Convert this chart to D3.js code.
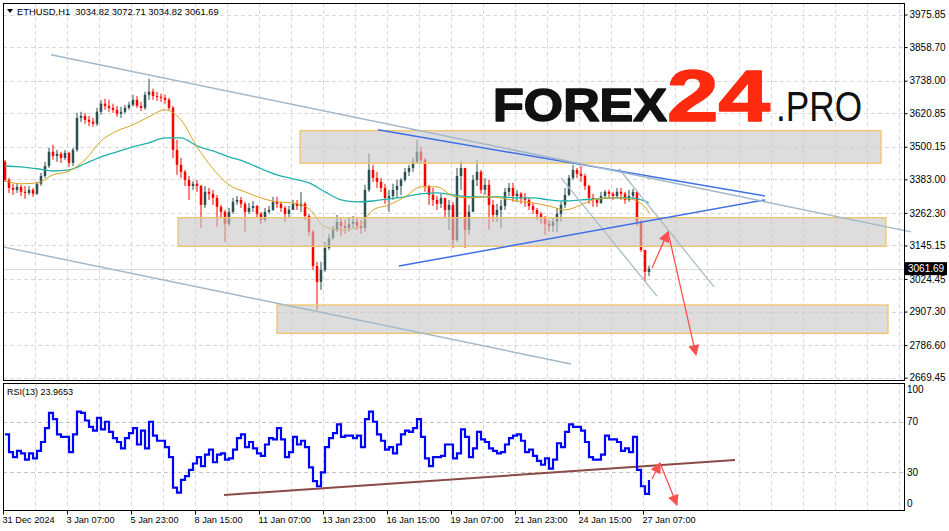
<!DOCTYPE html>
<html><head><meta charset="utf-8">
<script src="https://cdn.jsdelivr.net/npm/d3@7"></script>
<style>
body{margin:0;background:#fff;}
svg{display:block;}
text{font-family:"Liberation Sans",Arial,sans-serif;}
</style>
</head><body>
<svg id="c" width="949" height="531"></svg>
<script>
// ---------------- DATA ----------------
// 4-hour candles (each = 4 H1 bars), open = previous close
const firstOpen = 3446;
const closes = [
3381,3352,3345,3356,3338,3334,3345,3331,3367,3395,
3431,3482,3467,3475,3460,3478,3442,3489,3604,3611,
3597,3590,3583,3626,3655,3647,3640,3633,3619,3626,
3640,3651,3669,3647,3640,3687,3698,3683,3680,3676,
3669,3640,3489,3435,3410,3381,3359,3367,3359,3291,
3338,3331,3316,3284,3266,3223,3266,3302,3309,3295,
3266,3280,3287,3259,3237,3266,3273,3302,3295,3280,
3259,3273,3295,3287,3295,3251,3194,3071,3014,3057,
3136,3172,3201,3230,3215,3208,3223,3230,3215,3208,
3345,3417,3388,3374,3352,3316,3323,3345,3359,3381,
3410,3424,3446,3482,3453,3359,3327,3309,3295,3316,
3273,3291,3165,3395,3424,3201,3266,3381,3410,3345,
3363,3291,3255,3273,3287,3338,3352,3323,3331,3316,
3309,3287,3273,3259,3244,3223,3215,3230,3259,3291,
3327,3388,3417,3403,3395,3359,3316,3309,3298,3323,
3338,3331,3323,3338,3331,3309,3323,3338,3230,3129,
3050,3061.69];
const highs = [
3453,3388,3367,3370,3363,3359,3359,3352,3374,3406,
3446,3496,3507,3489,3482,3489,3482,3496,3622,3626,
3622,3611,3604,3640,3669,3673,3669,3655,3647,3644,
3651,3662,3687,3683,3662,3698,3745,3709,3698,3691,
3687,3676,3647,3525,3460,3417,3395,3377,3381,3363,
3359,3352,3345,3327,3291,3273,3280,3316,3323,3320,
3302,3298,3305,3291,3266,3280,3287,3320,3320,3302,
3287,3287,3309,3309,3338,3302,3259,3201,3086,3086,
3158,3187,3215,3255,3244,3237,3244,3251,3244,3237,
3363,3475,3435,3410,3388,3367,3345,3367,3381,3388,
3424,3435,3460,3525,3500,3460,3363,3352,3323,3331,
3316,3309,3302,3424,3449,3424,3291,3399,3453,3417,
3388,3381,3309,3295,3309,3352,3370,3370,3345,3338,
3334,3316,3298,3280,3266,3251,3237,3244,3280,3302,
3352,3399,3435,3424,3431,3403,3363,3331,3316,3338,
3345,3345,3338,3352,3352,3338,3345,3349,3338,3237,
3129,3072.71];
const lows = [
3374,3334,3327,3334,3323,3313,3327,3320,3327,3359,
3388,3424,3453,3446,3442,3453,3428,3431,3482,3590,
3583,3575,3572,3575,3615,3633,3626,3622,3608,3604,
3619,3633,3644,3640,3629,3633,3669,3669,3665,3662,
3655,3633,3460,3399,3388,3359,3309,3345,3338,3208,
3280,3309,3291,3212,3244,3158,3215,3259,3291,3280,
3194,3259,3266,3244,3223,3230,3259,3269,3280,3266,
3230,3244,3273,3273,3266,3237,3179,3057,2913,2985,
3050,3129,3165,3194,3179,3187,3194,3208,3201,3187,
3194,3338,3374,3352,3338,3295,3266,3309,3316,3327,
3374,3395,3410,3439,3439,3338,3291,3287,3273,3280,
3244,3201,3136,3158,3345,3136,3183,3266,3359,3331,
3327,3201,3230,3230,3208,3273,3323,3302,3302,3295,
3284,3273,3259,3237,3223,3183,3194,3194,3194,3230,
3280,3323,3381,3388,3374,3345,3295,3284,3284,3295,
3316,3316,3309,3316,3309,3295,3302,3316,3215,3122,
3014,3034.82];
// RSI(13), one value per 4-hour step
const rsi = [
60,46,42,47,45,40,45,41,47,54,
65,77,72,60,58,58,46,60,78,77,
71,66,63,73,64,70,62,57,54,49,
57,61,65,52,63,49,70,59,55,55,
50,42,18,14,24,27,32,37,42,35,
44,48,38,44,45,40,41,48,57,60,
50,54,49,45,43,52,57,56,65,56,
42,46,58,52,55,50,34,23,19,30,
50,57,61,68,58,59,59,57,59,50,
72,78,70,60,55,48,50,45,52,60,
63,62,65,72,58,41,35,42,42,43,
52,52,41,45,64,58,42,49,62,56,
54,49,47,45,46,52,57,59,60,55,
46,48,43,39,36,41,33,40,53,50,
62,68,66,66,63,54,42,40,40,44,
59,56,56,54,47,49,46,58,32,19,
13,23.9653];
// moving averages, sampled every 16 bars (+ last bar)
const maFast = [3377,3367,3370,3399,3413,3453,3521,3557,3579,3608,3633,3597,3500,3421,3363,3338,3316,3302,3298,3277,3212,3201,3208,3273,3291,3320,3356,3356,3323,3316,3320,3316,3305,3298,3287,3273,3291,3313,3316,3313,3284,3262];
const maSlow = [3431,3428,3421,3413,3417,3439,3464,3482,3500,3514,3532,3532,3503,3485,3464,3446,3421,3399,3385,3370,3338,3309,3302,3305,3313,3320,3331,3334,3327,3320,3320,3320,3316,3316,3309,3305,3309,3313,3316,3316,3305,3298];
const priceTicks = [3975.85,3858.70,3738.00,3620.85,3500.15,3383.00,3262.30,3145.15,3024.45,2907.30,2786.60,2669.45];
const rsiTicks = [100,70,30,0];
const timeLabels = ["31 Dec 2024","3 Jan 07:00","5 Jan 23:00","8 Jan 15:00","11 Jan 07:00","13 Jan 23:00","16 Jan 15:00","19 Jan 07:00","21 Jan 23:00","24 Jan 15:00","27 Jan 07:00"];
const lastPrice = 3061.69;
// zones: [startHour, endHour, upperPrice, lowerPrice]
const zones = [[297,878,3558,3441],[175,883,3245,3142],[274,885,2931,2829]];
// trend lines: [hour1, price1, hour2, price2]
const channelLines = [[48,3831,908,3194],[0,3140,568,2719]];
const blueLines = [[375,3561,762,3323],[396,3071,762,3309]];
const steepLines = [[558,3388,654,2963],[616,3421,711,2996]];
const priceArrows = [[649,3064,665,3194],[665,3194,693,2751]];
const rsiTrend = [221,12.1,732,39.8];
const rsiArrows = [[649,24.7,657,37.4],[657,37.4,674,4.2]];

// ---------------- LAYOUT ----------------
const L=3, R=904, T=3, MB=380, RT=383, RB=510;
const svg = d3.select("#c");
const x = d3.scaleLinear().domain([0, R-L]).range([L, R]);
const y = d3.scaleLinear().domain([2669.45, 3975.85]).range([377.7, 14.5]);
const yr = d3.scaleLinear().domain([0,100]).range([510.3, 383.8]);

const defs = svg.append("defs");
defs.append("clipPath").attr("id","cm").append("rect").attr("x",L).attr("y",T).attr("width",R-L).attr("height",MB-T);
defs.append("clipPath").attr("id","cr").append("rect").attr("x",L).attr("y",RT).attr("width",R-L).attr("height",RB-RT);
defs.append("marker").attr("id","ah").attr("viewBox","0 0 10 10").attr("refX",9).attr("refY",5)
  .attr("markerWidth",12).attr("markerHeight",11).attr("markerUnits","userSpaceOnUse").attr("orient","auto")
  .append("path").attr("d","M0,0 L10,5 L0,10 Z").attr("fill","#ff5050");

svg.append("rect").attr("width",949).attr("height",531).attr("fill","#fff");

// grid
const grid = svg.append("g").attr("stroke","#d9d9d9").attr("stroke-dasharray","4,3").attr("stroke-width",1);
priceTicks.forEach(p=>{
  const yy=Math.round(y(p))+0.5;
  grid.append("line").attr("x1",L).attr("x2",R).attr("y1",yy).attr("y2",yy);
});
for(let h=32; h<R-L; h+=32){
  const xx=Math.round(x(h))+0.5;
  grid.append("line").attr("x1",xx).attr("x2",xx).attr("y1",T).attr("y2",MB);
  grid.append("line").attr("x1",xx).attr("x2",xx).attr("y1",RT).attr("y2",RB);
}
[70,30].forEach(v=>{
  const yy=Math.round(yr(v))+0.5;
  svg.append("line").attr("x1",L).attr("x2",R).attr("y1",yy).attr("y2",yy)
    .attr("stroke","#c4c4c4").attr("stroke-dasharray","4,3");
});

// current price line
const main = svg.append("g").attr("clip-path","url(#cm)");
main.append("line").attr("x1",L).attr("x2",R).attr("y1",Math.round(y(lastPrice))+0.5).attr("y2",Math.round(y(lastPrice))+0.5)
  .attr("stroke","#dcdcdc").attr("stroke-width",1);

// candles
const candles = closes.map((c,i)=>({i, o: i===0?firstOpen:closes[i-1], c, h:highs[i], l:lows[i]}));
const cg = main.append("g");
candles.forEach(d=>{
  const cx = x(4*d.i+2);
  const col = d.c>=d.o ? "#2f4f4f" : "#ff0000";
  const hi = Math.max(d.h,d.o,d.c), lo=Math.min(d.l,d.o,d.c);
  cg.append("line").attr("x1",cx).attr("x2",cx).attr("y1",y(hi)).attr("y2",y(lo)).attr("stroke",col).attr("stroke-width",1);
  const top = y(Math.max(d.o,d.c)), bot=y(Math.min(d.o,d.c));
  cg.append("rect").attr("x",cx-1.25).attr("width",2.5).attr("y",top).attr("height",Math.max(1,bot-top)).attr("fill",col);
});

// moving averages
const maHour = k => k < 41 ? k*16+2 : 646;
const maLine = d3.line().x((d,k)=>x(maHour(k))).y(d=>y(d)).curve(d3.curveMonotoneX);
main.append("path").attr("d",maLine(maSlow)).attr("fill","none").attr("stroke","#20b2aa").attr("stroke-width",1.3);
main.append("path").attr("d",maLine(maFast)).attr("fill","none").attr("stroke","#daa520").attr("stroke-width",1);

// zones
zones.forEach(z=>{
  main.append("rect").attr("x",x(z[0])).attr("y",y(z[2])).attr("width",x(z[1])-x(z[0])).attr("height",y(z[3])-y(z[2]))
    .attr("fill","#c6c6c6").attr("fill-opacity",0.6).attr("stroke","#f2c46d").attr("stroke-width",1.3);
});

// trend lines
const tl = (g,arr,col,w)=>arr.forEach(a=>g.append("line").attr("x1",x(a[0])).attr("y1",y(a[1])).attr("x2",x(a[2])).attr("y2",y(a[3])).attr("stroke",col).attr("stroke-width",w));
tl(main, steepLines, "#a9bccb", 1.3);
tl(svg, channelLines, "#a3b8c8", 1.5);
tl(main, blueLines, "#3f6fe8", 1.5);
priceArrows.forEach(a=>{
  main.append("line").attr("x1",x(a[0])).attr("y1",y(a[1])).attr("x2",x(a[2])).attr("y2",y(a[3]))
    .attr("stroke","#ff5050").attr("stroke-width",1.3).attr("marker-end","url(#ah)");
});

// RSI
const rg = svg.append("g").attr("clip-path","url(#cr)");
rg.append("line").attr("x1",x(rsiTrend[0])).attr("y1",yr(rsiTrend[1])).attr("x2",x(rsiTrend[2])).attr("y2",yr(rsiTrend[3]))
  .attr("stroke","#8a4a46").attr("stroke-width",2);
const rLine = d3.line().x((d,i)=>x(4*i+2)).y(d=>yr(d)).curve(d3.curveStepAfter);
rg.append("path").attr("d",rLine(rsi)).attr("fill","none").attr("stroke","#0000ff").attr("stroke-width",2.2);
rsiArrows.forEach(a=>{
  rg.append("line").attr("x1",x(a[0])).attr("y1",yr(a[1])).attr("x2",x(a[2])).attr("y2",yr(a[3]))
    .attr("stroke","#ff5050").attr("stroke-width",1.3).attr("marker-end","url(#ah)");
});

// panel borders
svg.append("rect").attr("x",L+0.5).attr("y",T+0.5).attr("width",R-L).attr("height",MB-T).attr("fill","none").attr("stroke","#000");
svg.append("rect").attr("x",L+0.5).attr("y",RT+0.5).attr("width",R-L).attr("height",RB-RT).attr("fill","none").attr("stroke","#000");

// price axis
const pa = svg.append("g").attr("transform",`translate(${R+0.5},0)`)
  .call(d3.axisRight(y).tickValues(priceTicks).tickFormat(d3.format(".2f")).tickSize(3).tickPadding(2));
pa.select(".domain").remove();
pa.selectAll("text").attr("font-size",10).attr("font-family","Liberation Sans, Arial").attr("fill","#000");
pa.selectAll("line").attr("stroke","#000");

// last price label
const ly = y(lastPrice);
svg.append("rect").attr("x",R+1).attr("y",ly-6.5).attr("width",42).attr("height",13).attr("fill","#000");
svg.append("text").attr("x",R+4).attr("y",ly+3.8).attr("font-size",10).attr("fill","#fff").text(d3.format(".2f")(lastPrice));

// RSI axis labels
rsiTicks.forEach(v=>{
  const yy = Math.min(Math.max(yr(v),389),503);
  svg.append("text").attr("x",R+3).attr("y",yy+3.5).attr("font-size",10).text(v);
});

// time axis
const ta = svg.append("g").attr("transform",`translate(0,${RB+0.5})`)
  .call(d3.axisBottom(x).tickValues(timeLabels.map((t,k)=>k*64)).tickFormat((d,k)=>timeLabels[k]).tickSize(4).tickPadding(2));
ta.select(".domain").remove();
ta.selectAll("text").attr("text-anchor","start").attr("font-size",9.2).attr("font-family","Liberation Sans, Arial").attr("fill","#000").attr("dx",-1);
ta.selectAll("line").attr("stroke","#000");

// header
svg.append("path").attr("d","M7,9 L13,9 L10,13 Z").attr("fill","#000");
svg.append("text").attr("x",17).attr("y",14.5).attr("font-size",9.4).text("ETHUSD,H1  3034.82 3072.71 3034.82 3061.69").attr("xml:space","preserve");
svg.append("text").attr("x",7).attr("y",394.5).attr("font-size",9).text("RSI(13) 23.9653");

// logo
svg.append("text").attr("x",493).attr("y",120.7).attr("font-family","Inter, 'Noto Sans', sans-serif").attr("font-weight",900)
  .attr("font-size",47).attr("textLength",174).attr("lengthAdjust","spacingAndGlyphs").attr("fill","#111")
  .attr("stroke","#111").attr("stroke-width",1.6).attr("stroke-linejoin","round").text("FOREX");
svg.append("text").attr("x",667).attr("y",120.7).attr("font-family","Inter, 'Noto Sans', sans-serif").attr("font-weight",800)
  .attr("font-size",72).attr("textLength",103).attr("lengthAdjust","spacingAndGlyphs").attr("fill","#fe2a10")
  .attr("stroke","#fe2a10").attr("stroke-width",1.6).attr("stroke-linejoin","round").text("24");
svg.append("text").attr("x",776).attr("y",120.7).attr("font-family","Inter, 'Noto Sans', sans-serif").attr("font-weight",300)
  .attr("font-size",42).attr("textLength",86).attr("lengthAdjust","spacingAndGlyphs").attr("fill","#111").text(".PRO");
</script>
</body></html>
